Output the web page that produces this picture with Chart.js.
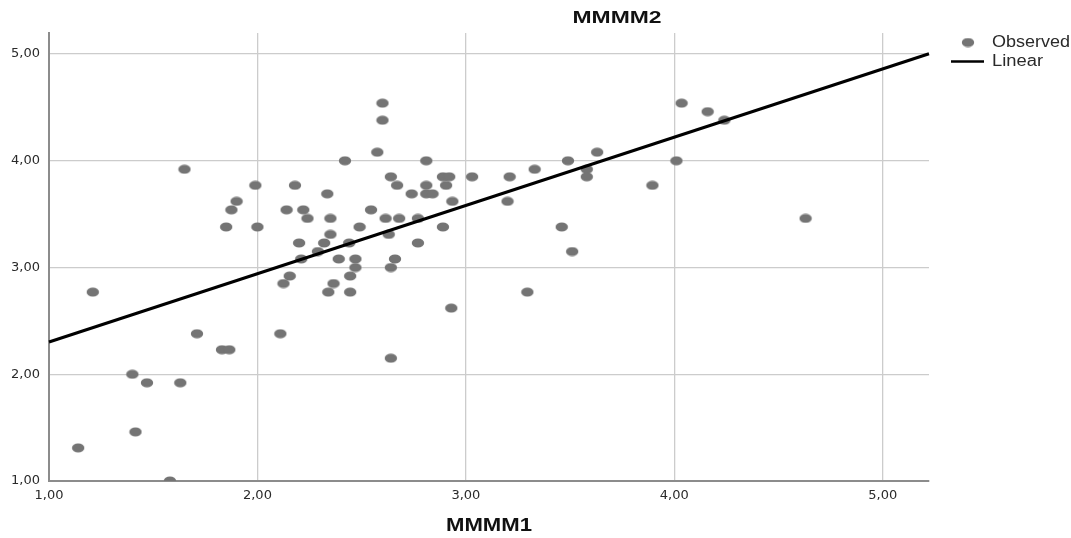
<!DOCTYPE html>
<html>
<head>
<meta charset="utf-8">
<script src="https://cdn.jsdelivr.net/npm/chart.js@4/dist/chart.umd.min.js"></script>
<style>
  html, body { margin: 0; padding: 0; background: #ffffff; }
  #wrap { position: relative; width: 1071px; height: 538px; }
</style>
</head>
<body>
<div id="wrap"><canvas id="c"></canvas></div>
<script>
// ---- data ----
const chartTitle = 'MMMM2';
const xAxisTitle = 'MMMM1';
const legendLabels = ['Observed', 'Linear'];

const mmmm1 = [
  1.14, 1.21, 1.40, 1.415, 1.47, 1.58, 1.63, 1.65, 1.71, 1.83,
  1.865, 1.85, 1.875, 1.90, 1.99, 2.00, 2.11, 2.125, 2.14, 2.155,
  2.18, 2.20, 2.21, 2.22, 2.24, 2.29, 2.32, 2.335, 2.34, 2.35,
  2.35, 2.365, 2.39, 2.42, 2.44, 2.445, 2.445, 2.47, 2.47, 2.49,
  2.545, 2.575, 2.60, 2.60, 2.615, 2.63, 2.64, 2.64, 2.64, 2.66,
  2.67, 2.68, 2.74, 2.77, 2.77, 2.81, 2.81, 2.81, 2.84, 2.89,
  2.89, 2.905, 2.92, 2.935, 2.93, 3.03, 3.20, 3.21, 3.295, 3.33,
  3.46, 3.49, 3.51, 3.58, 3.58, 3.63, 3.895, 4.01, 4.035, 4.16,
  4.24, 4.63
];
const mmmm2 = [
  1.31, 2.77, 2.00, 1.46, 1.92, 1.00, 1.92, 3.92, 2.38, 2.23,
  2.23, 3.38, 3.54, 3.62, 3.77, 3.38, 2.38, 2.85, 3.54, 2.92,
  3.77, 3.23, 3.08, 3.54, 3.46, 3.15, 3.23, 3.69, 2.77, 3.46,
  3.31, 2.85, 3.08, 4.00, 3.23, 2.92, 2.77, 3.08, 3.00, 3.38,
  3.54, 4.08, 4.54, 4.38, 3.46, 3.31, 3.85, 3.00, 2.15, 3.08,
  3.77, 3.46, 3.69, 3.46, 3.23, 4.00, 3.77, 3.69, 3.69, 3.85,
  3.38, 3.77, 3.85, 3.62, 2.62, 3.85, 3.62, 3.85, 2.77, 3.92,
  3.38, 4.00, 3.15, 3.92, 3.85, 4.08, 3.77, 4.00, 4.54, 4.46,
  4.38, 3.46
];

// linear fit
const fitIntercept = 1.663;
const fitSlope = 0.6396;

const xTickValues = [1, 2, 3, 4, 5];
const xTickLabels = ['1,00', '2,00', '3,00', '4,00', '5,00'];
const yTickValues = [1, 2, 3, 4, 5];
const yTickLabels = ['1,00', '2,00', '3,00', '4,00', '5,00'];

const xRange = [1, 5.222];
const yRange = [1, 5.197];

// ---- chart ----
const observed = mmmm1.map((x, i) => ({ x: x, y: mmmm2[i] }));
const fitLine = xRange.map(x => ({ x: x, y: fitIntercept + fitSlope * x }));

const POINT_COLOR = 'rgb(116,116,116)';
function ellipseImage() {
  const cv = document.createElement('canvas');
  cv.width = 14; cv.height = 10;
  const g = cv.getContext('2d');
  g.fillStyle = POINT_COLOR;
  g.beginPath();
  g.ellipse(7, 5, 6.2, 4.5, 0, 0, Math.PI * 2);
  g.fill();
  return cv;
}
const dotImg = ellipseImage();

function drawStretched(ctx, text, font, cx, cy, targetWidth, color, align) {
  ctx.save();
  ctx.font = font;
  ctx.fillStyle = color;
  ctx.textBaseline = 'middle';
  const w = ctx.measureText(text).width;
  const s = targetWidth / w;
  ctx.translate(cx, cy);
  ctx.scale(s, 1);
  ctx.textAlign = align || 'center';
  ctx.fillText(text, 0, 0);
  ctx.restore();
}

const annotations = {
  id: 'annotations',
  afterDraw(chart) {
    const ctx = chart.ctx;
    drawStretched(ctx, chartTitle, 'bold 17px "Liberation Sans"', 617, 18.5, 89, '#111', 'center');
    const ca = chart.chartArea;
    drawStretched(ctx, xAxisTitle, 'bold 18px "Liberation Sans"', (ca.left + ca.right) / 2, 526.5, 86, '#111', 'center');
    ctx.drawImage(dotImg, 968 - 7, 42.5 - 5);
    drawStretched(ctx, legendLabels[0], '16px "Liberation Sans"', 992, 43, 78, '#2a2a2a', 'left');
    ctx.save();
    ctx.strokeStyle = '#000';
    ctx.lineWidth = 2.5;
    ctx.beginPath();
    ctx.moveTo(951, 61.5);
    ctx.lineTo(984, 61.5);
    ctx.stroke();
    ctx.restore();
    drawStretched(ctx, legendLabels[1], '16px "Liberation Sans"', 992, 62, 51, '#2a2a2a', 'left');
  }
};

new Chart(document.getElementById('c'), {
  type: 'scatter',
  data: {
    datasets: [
      {
        label: legendLabels[0],
        data: observed,
        pointStyle: dotImg,
        pointRadius: 6,
        pointHoverRadius: 6,
        backgroundColor: POINT_COLOR,
        borderColor: POINT_COLOR,
        order: 2
      },
      {
        type: 'line',
        label: legendLabels[1],
        data: fitLine,
        borderColor: '#000',
        borderWidth: 3,
        pointRadius: 0,
        fill: false,
        tension: 0,
        clip: false,
        order: 1
      }
    ]
  },
  plugins: [annotations],
  options: {
    responsive: true,
    maintainAspectRatio: false,
    devicePixelRatio: 1,
    animation: false,
    events: [],
    layout: { padding: { top: 33, right: 142, left: 0, bottom: 0 } },
    plugins: {
      legend: { display: false },
      title: { display: false },
      tooltip: { enabled: false }
    },
    scales: {
      x: {
        type: 'linear',
        min: xRange[0],
        max: xRange[1],
        afterFit(scale) { scale.height = 57; },
        afterBuildTicks(scale) { scale.ticks = xTickValues.map(v => ({ value: v })); },
        grid: { color: '#cccccc', lineWidth: 1.3, drawTicks: false },
        border: { display: true, color: '#8c8c8c', width: 2 },
        ticks: {
          padding: 7,
          color: '#2a2a2a',
          font: { family: 'DejaVu Sans', size: 13 },
          callback: (v) => { const i = xTickValues.indexOf(v); return i >= 0 ? xTickLabels[i] : ''; }
        }
      },
      y: {
        type: 'linear',
        min: yRange[0],
        max: yRange[1],
        afterFit(scale) { scale.width = 49; },
        afterBuildTicks(scale) { scale.ticks = yTickValues.map(v => ({ value: v })); },
        grid: { color: '#cccccc', lineWidth: 1.3, drawTicks: false },
        border: { display: true, color: '#8c8c8c', width: 2 },
        ticks: {
          padding: 9,
          color: '#2a2a2a',
          font: { family: 'DejaVu Sans', size: 13 },
          callback: (v) => { const i = yTickValues.indexOf(v); return i >= 0 ? yTickLabels[i] : ''; }
        }
      }
    }
  }
});
</script>
</body>
</html>
